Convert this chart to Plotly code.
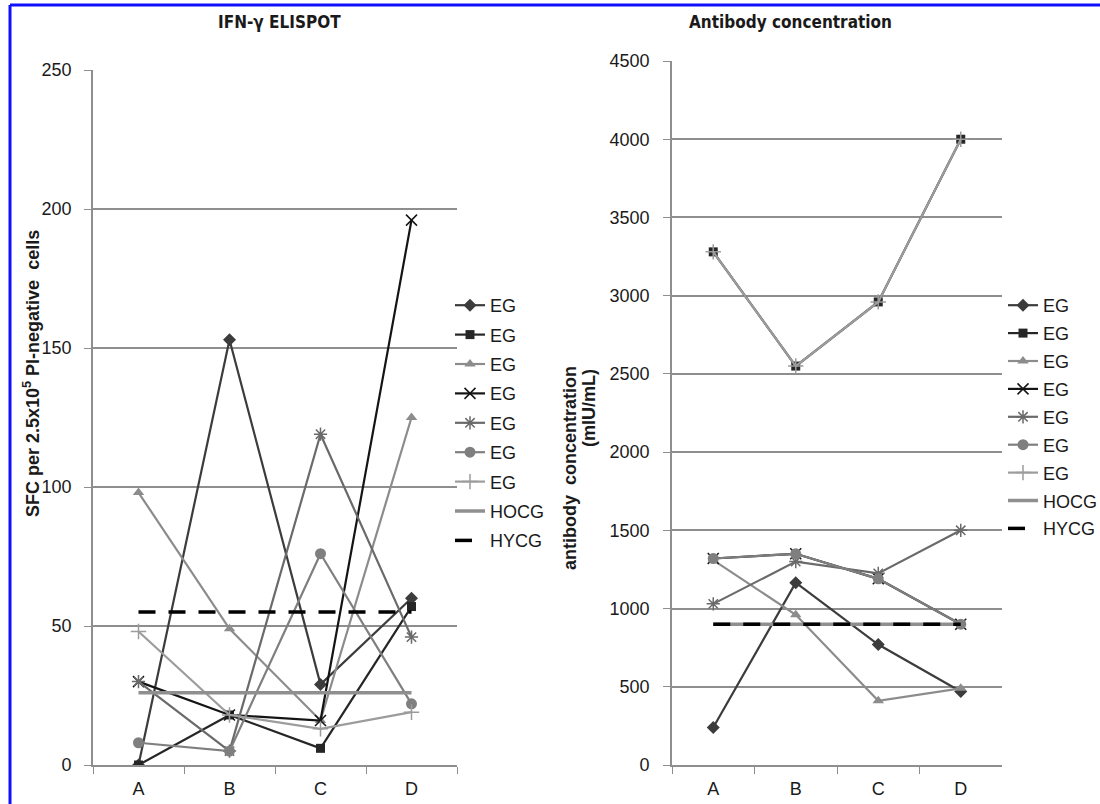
import plotly.graph_objects as go

categories = ["A", "B", "C", "D"]
series_names = ["EG", "EG", "EG", "EG", "EG", "EG", "EG", "HOCG", "HYCG"]

# IFN-gamma ELISPOT (SFC per 2.5x10^5 PI-negative cells)
elispot_diamond = [0, 153, 29, 60]
elispot_square = [0, 18, 6, 57]
elispot_triangle = [98, 49, 16, 125]
elispot_x = [30, 18, 16, 196]
elispot_asterisk = [30, 5, 119, 46]
elispot_circle = [8, 5, 76, 22]
elispot_plus = [48, 18, 13, 19]
elispot_hocg = [26, 26, 26, 26]
elispot_hycg = [55, 55, 55, 55]

# Antibody concentration (mIU/mL)
ab_diamond = [240, 1165, 770, 470]
ab_square = [3280, 2550, 2960, 4000]
ab_triangle = [1310, 960, 410, 490]
ab_x = [1320, 1350, 1190, 900]
ab_asterisk = [1030, 1300, 1225, 1500]
ab_circle = [1320, 1350, 1190, 900]
ab_plus = [3280, 2550, 2960, 4000]
ab_hocg = [900, 900, 900, 900]
ab_hycg = [900, 900, 900, 900]

left_y_ticks = [0, 50, 100, 150, 200, 250]
right_y_ticks = [0, 500, 1000, 1500, 2000, 2500, 3000, 3500, 4000, 4500]

W, H = 1100, 804
FONT = "Liberation Sans, Arial, sans-serif"
NARROW = "DejaVu Sans Condensed, Liberation Sans Narrow, Liberation Sans, Arial, sans-serif"
GRID = "#8e8e8e"
TXT = "#1a1a1a"

styles = [
    dict(color="#3c3c3c", symbol="diamond", size=10, width=2.2, dash="solid", open=False),
    dict(color="#262626", symbol="square", size=9, width=2.2, dash="solid", open=False),
    dict(color="#8c8c8c", symbol="triangle-up", size=10, width=2.2, dash="solid", open=False),
    dict(color="#141414", symbol="x-thin-open", size=11, width=2.2, dash="solid", open=True),
    dict(color="#6a6a6a", symbol="asterisk-open", size=11, width=2.2, dash="solid", open=True),
    dict(color="#7f7f7f", symbol="circle", size=11, width=2.2, dash="solid", open=False),
    dict(color="#9c9c9c", symbol="cross-thin-open", size=11, width=2.2, dash="solid", open=True),
    dict(color="#8f8f8f", symbol=None, size=0, width=3.5, dash="solid", open=False),
    dict(color="#000000", symbol=None, size=0, width=3.5, dash="17px,13px", open=False),
]

left_data = [elispot_diamond, elispot_square, elispot_triangle, elispot_x, elispot_asterisk,
             elispot_circle, elispot_plus, elispot_hocg, elispot_hycg]
right_data = [ab_diamond, ab_square, ab_triangle, ab_x, ab_asterisk,
              ab_circle, ab_plus, ab_hocg, ab_hycg]

fig = go.Figure()


def add_series(data, xa, ya, legend, prefix):
    for i, (vals, st) in enumerate(zip(data, styles)):
        if st["symbol"] is None:
            mode = "lines"
            marker = None
        else:
            mode = "lines+markers"
            if st["open"]:
                marker = dict(symbol=st["symbol"], size=st["size"],
                              line=dict(color=st["color"], width=1.5), color=st["color"])
            else:
                marker = dict(symbol=st["symbol"], size=st["size"], color=st["color"],
                              line=dict(width=0))
        fig.add_trace(go.Scatter(
            x=categories, y=vals, name=series_names[i], mode=mode,
            line=dict(color=st["color"], width=st["width"], dash=st["dash"]),
            marker=marker, xaxis=xa, yaxis=ya, legend=legend,
            legendgroup=f"{prefix}{i}", showlegend=True,
        ))


add_series(left_data, "x", "y", "legend", "L")
add_series(right_data, "x2", "y2", "legend2", "R")


def px_x(v):
    return v / W


def px_y(v):
    return 1 - v / H


axis_common = dict(showline=True, linecolor=GRID, linewidth=1.8, ticks="outside",
                   tickcolor=GRID, ticklen=7, tickwidth=1.3,
                   tickfont=dict(family=FONT, size=18, color=TXT))

fig.update_layout(
    width=W, height=H,
    margin=dict(l=0, r=0, t=0, b=0, autoexpand=False),
    paper_bgcolor="white", plot_bgcolor="white",
    font=dict(family=FONT, size=18, color=TXT),
    xaxis=dict(domain=[px_x(93), px_x(457)], anchor="y", type="category",
               range=[-0.5, 3.5], tickson="boundaries", showgrid=False,
               ticklabelstandoff=6, **axis_common),
    yaxis=dict(domain=[px_y(765), px_y(70)], anchor="x", range=[0, 250],
               tickvals=left_y_ticks, showgrid=True, gridcolor=GRID, gridwidth=1.6,
               zeroline=False, ticklabelstandoff=9, **axis_common),
    xaxis2=dict(domain=[px_x(672), px_x(1002)], anchor="y2", type="category",
                range=[-0.5, 3.5], tickson="boundaries", showgrid=False,
                ticklabelstandoff=6, **axis_common),
    yaxis2=dict(domain=[px_y(765), px_y(61)], anchor="x2", range=[0, 4500],
                tickvals=right_y_ticks, showgrid=True, gridcolor=GRID, gridwidth=1.6,
                zeroline=False, ticklabelstandoff=10, **axis_common),
    legend=dict(x=px_x(450), y=px_y(287), xanchor="left", yanchor="top",
                bgcolor="rgba(0,0,0,0)", tracegroupgap=3,
                font=dict(family=FONT, size=18, color=TXT)),
    legend2=dict(x=px_x(1003), y=px_y(287), xanchor="left", yanchor="top",
                 bgcolor="rgba(0,0,0,0)", tracegroupgap=1.5,
                 font=dict(family=FONT, size=18, color=TXT)),
    showlegend=True,
)

annotations = [
    dict(text="<b>IFN-γ ELISPOT</b>", x=px_x(280), y=px_y(22),
         font=dict(family=NARROW, size=17, color=TXT)),
    dict(text="<b>Antibody concentration</b>", x=px_x(790), y=px_y(22),
         font=dict(family=NARROW, size=17, color=TXT)),
    dict(text="<b>SFC per 2.5x10<sup>5</sup> PI-negative  cells</b>", x=px_x(31), y=px_y(374),
         textangle=-90, font=dict(family=FONT, size=18, color=TXT)),
    dict(text="<b>antibody  concentration</b>", x=px_x(570), y=px_y(468),
         textangle=-90, font=dict(family=FONT, size=18, color=TXT)),
    dict(text="<b>(mIU/mL)</b>", x=px_x(589), y=px_y(408),
         textangle=-90, font=dict(family=FONT, size=18, color=TXT)),
]
for a in annotations:
    a.update(xref="paper", yref="paper", showarrow=False, xanchor="center", yanchor="middle")
fig.update_layout(annotations=annotations)

# blue frame along the left and top edges of the figure
fig.update_layout(shapes=[
    dict(type="line", xref="paper", yref="paper", x0=px_x(10), x1=px_x(10),
         y0=0, y1=px_y(5), line=dict(color="#1010ff", width=3)),
    dict(type="line", xref="paper", yref="paper", x0=px_x(10), x1=1,
         y0=px_y(5), y1=px_y(5), line=dict(color="#1010ff", width=3)),
])

fig.write_html(
    "out.html",
    config={"displayModeBar": False},
    post_script="document.body.style.margin='0';document.body.style.overflow='hidden';",
)
